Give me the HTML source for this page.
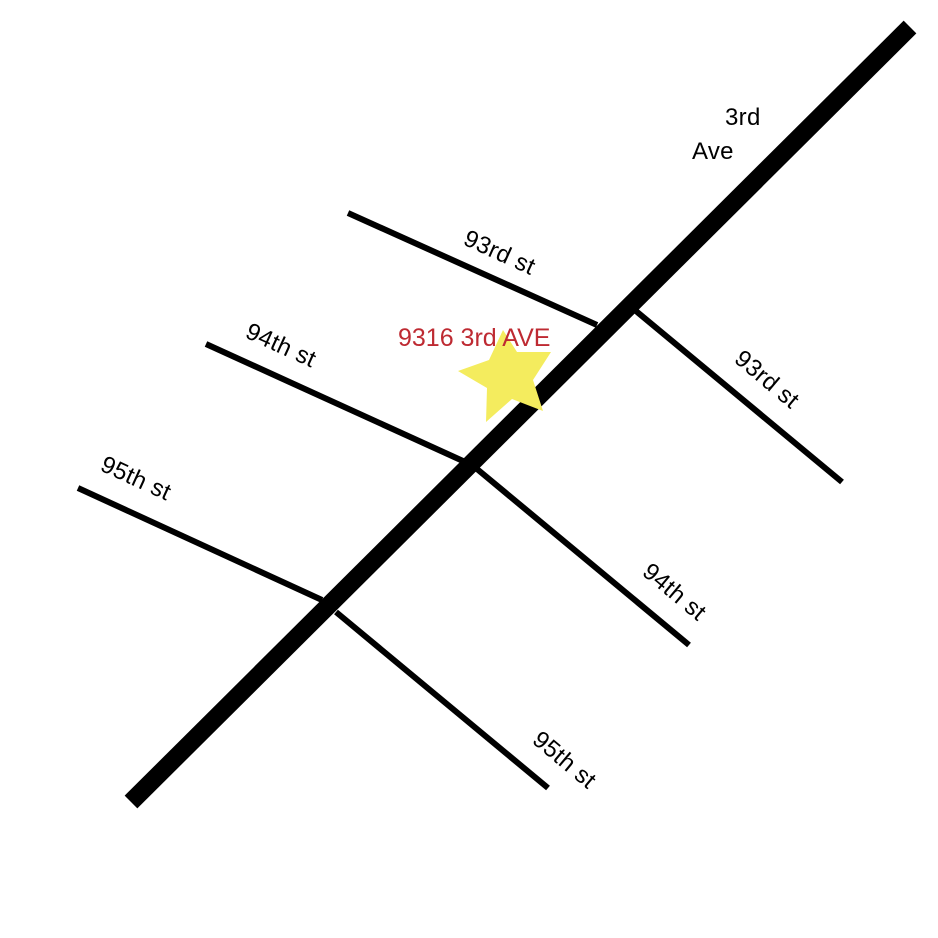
<!DOCTYPE html>
<html><head><meta charset="utf-8"><style>
html,body{margin:0;padding:0;background:#fff;width:938px;height:938px;overflow:hidden}
svg{display:block}
text{font-family:"Liberation Sans",sans-serif;font-size:24px;fill:#000;letter-spacing:0.3px}
</style></head><body>
<svg width="938" height="938" viewBox="0 0 938 938">
<g stroke="#000" stroke-width="6" fill="none">
<line x1="348" y1="213" x2="597" y2="325"/>
<line x1="636" y1="311" x2="842" y2="482"/>
<line x1="206" y1="344" x2="463" y2="461"/>
<line x1="477" y1="469" x2="689" y2="645"/>
<line x1="78" y1="488" x2="322" y2="600"/>
<line x1="336" y1="612" x2="548" y2="788"/>
</g>
<line x1="131" y1="802" x2="910" y2="27" stroke="#000" stroke-width="18"/>
<polygon fill="#F4EC5E" points="503,330 517,352 551,352 533,380 543,411 512,399 486,422 487,388 458,371 489,360"/>
<text x="398" y="346" style="fill:#BE2A32;font-size:25px;letter-spacing:0">9316 3rd AVE</text>
<text x="725" y="125">3rd</text>
<text x="692" y="159">Ave</text>
<text transform="translate(462,244) rotate(24.5)">93rd st</text>
<text transform="translate(244,337) rotate(24.5)">94th st</text>
<text transform="translate(99,470) rotate(24.5)">95th st</text>
<text transform="translate(733,361) rotate(40)">93rd st</text>
<text transform="translate(641,574) rotate(40)">94th st</text>
<text transform="translate(531,742) rotate(40)">95th st</text>
</svg>
</body></html>
